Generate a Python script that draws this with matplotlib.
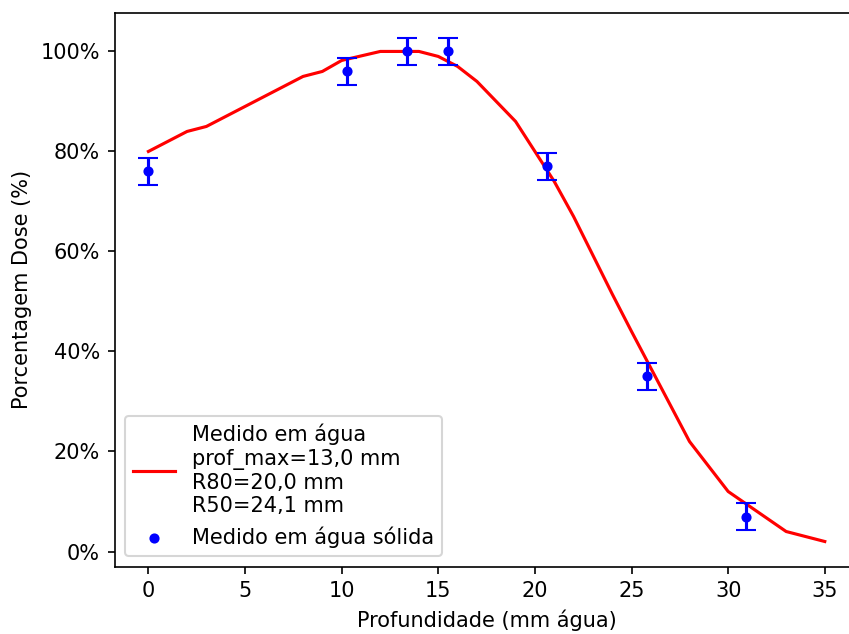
import matplotlib
matplotlib.use("Agg")
import matplotlib.pyplot as plt
from matplotlib.ticker import PercentFormatter

# curva medida em água
prof_agua = [0, 2, 3, 8, 9, 10, 12, 14, 15, 16, 17, 19, 20, 21, 22, 24, 25, 28, 30, 33, 35]
dose_agua = [80, 84, 85, 95, 96, 98.2, 100, 100, 99, 97, 94, 86, 80, 74, 67, 51.5, 44, 22, 12, 4, 2]

# pontos medidos em água sólida
prof_solida = [0, 10.3, 13.4, 15.5, 20.6, 25.8, 30.9]
dose_solida = [76, 96, 100, 100, 77, 35, 7]
erro_solida = [2.75, 2.75, 2.75, 2.75, 2.75, 2.75, 2.75]

label_agua = "Medido em água\nprof_max=13,0 mm\nR80=20,0 mm\nR50=24,1 mm"

fig = plt.figure(figsize=(849 / 150, 634 / 150), dpi=150)
ax = fig.add_axes([114.6 / 849, 1 - 566.7 / 634, 744 / 849, 554.2 / 634])

ax.plot(prof_agua, dose_agua, color="red", label=label_agua)
ax.scatter(prof_solida, dose_solida, color="blue", s=15, zorder=3,
           label="Medido em água sólida")
ax.errorbar(prof_solida, dose_solida, yerr=erro_solida, fmt="none",
            ecolor="blue", capsize=5)

ax.yaxis.set_major_formatter(PercentFormatter(decimals=0))
ax.set_xlabel("Profundidade (mm água)")
ax.set_ylabel("Porcentagem Dose (%)")
ax.legend(loc="lower left")

# a figura original está cortada à direita
ax.spines["right"].set_visible(False)

fig.savefig("out.png", dpi=150)
